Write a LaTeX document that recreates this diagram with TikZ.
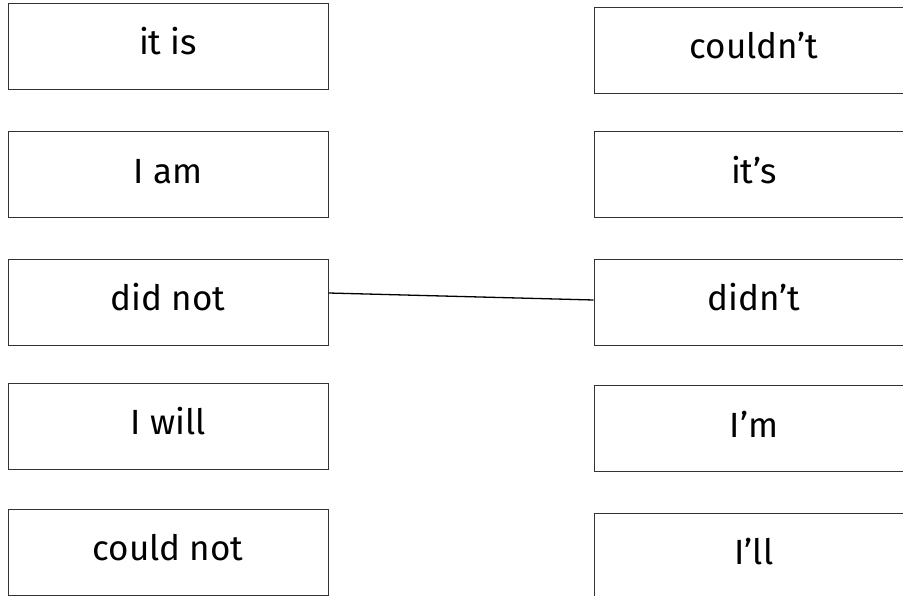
\documentclass[tikz,border=0pt]{standalone}
\usepackage{fontspec}
\setmainfont{Fira Sans}
\begin{document}
\begin{tikzpicture}[x=1pt, y=-1pt,
        card/.style={draw=black!80, line width=1pt, minimum width=320pt, minimum height=86pt, inner sep=0pt, text height=25pt, text depth=8pt, font=\fontsize{35}{40}\selectfont}]
        \useasboundingbox (0, 0) rectangle (903, 596);
        % left column
        \node[card] (itis) at (168, 46.5) {it is};
        \node[card] (iam) at (168, 175) {I am};
        \node[card] (didnot) at (168, 302.5) {did not};
        \node[card] (iwill) at (168, 426) {I will};
        \node[card] (couldnot) at (168, 552) {could not};
        % right column
        \node[card] (couldnt) at (754, 50.5) {couldn't};
        \node[card] (its) at (754, 175) {it's};
        \node[card] (didnt) at (754, 302.5) {didn't};
        \node[card] (im) at (754, 428.5) {I'm};
        \node[card] (ill) at (754, 556) {I'll};
        \draw[line width=1.3pt] ([yshift=9.5pt]didnot.east) -- ([yshift=2.5pt]didnt.west);
    \end{tikzpicture}
\end{document}
